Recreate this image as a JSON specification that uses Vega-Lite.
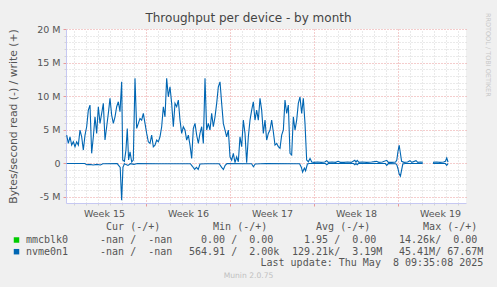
{
  "$schema": "https://vega.github.io/schema/vega-lite/v6.json",
  "width": 400,
  "height": 174,
  "autosize": {"type": "none"},
  "padding": {"left": 66, "top": 29, "right": 31, "bottom": 84},
  "background": "#f0f0f0",
  "config": {
    "font": "DejaVu Sans",
    "view": {"fill": "white", "stroke": null},
    "axis": {"labelColor": "#555555", "titleColor": "#555555", "labelFont": "DejaVu Sans", "labelFontSize": 9.5, "titleFont": "DejaVu Sans"}
  },
  "datasets": {
    "write": [
      {"day":0.389,"M":4.21,"s":"a"},{"day":0.528,"M":2.97,"s":"a"},{"day":0.667,"M":3.96,"s":"a"},{"day":0.806,"M":2.72,"s":"a"},
      {"day":0.944,"M":3.21,"s":"a"},{"day":1.083,"M":2.47,"s":"a"},{"day":1.222,"M":3.21,"s":"a"},{"day":1.361,"M":2.72,"s":"a"},
      {"day":1.5,"M":4.96,"s":"a"},{"day":1.639,"M":3.96,"s":"a"},{"day":1.778,"M":1.98,"s":"a"},{"day":1.917,"M":4.21,"s":"a"},
      {"day":2.056,"M":5.45,"s":"a"},{"day":2.194,"M":7.93,"s":"a"},{"day":2.333,"M":8.68,"s":"a"},{"day":2.472,"M":1.49,"s":"a"},
      {"day":2.611,"M":3.96,"s":"a"},{"day":2.75,"M":6.93,"s":"a"},{"day":2.889,"M":4.46,"s":"a"},{"day":3.028,"M":8.43,"s":"a"},
      {"day":3.167,"M":5.95,"s":"a"},{"day":3.306,"M":7.44,"s":"a"},{"day":3.444,"M":8.93,"s":"a"},{"day":3.583,"M":3.47,"s":"a"},
      {"day":3.722,"M":5.45,"s":"a"},{"day":3.861,"M":7.44,"s":"a"},{"day":4.0,"M":9.67,"s":"a"},{"day":4.139,"M":7.19,"s":"a"},
      {"day":4.278,"M":5.95,"s":"a"},{"day":4.417,"M":6.93,"s":"a"},{"day":4.556,"M":8.43,"s":"a"},{"day":4.694,"M":9.17,"s":"a"},
      {"day":4.833,"M":7.68,"s":"a"},{"day":4.972,"M":12.14,"s":"a"},{"day":5.06,"M":0.5,"s":"a"},{"day":5.2,"M":0.3,"s":"a"},
      {"day":5.33,"M":2.0,"s":"a"},{"day":5.44,"M":5.2,"s":"a"},{"day":5.55,"M":0.5,"s":"a"},{"day":5.67,"M":1.7,"s":"a"},
      {"day":5.81,"M":0.2,"s":"a"},{"day":5.94,"M":0.5,"s":"a"},{"day":6.083,"M":12.65,"s":"a"},{"day":6.222,"M":5.2,"s":"a"},
      {"day":6.361,"M":5.95,"s":"a"},{"day":6.5,"M":6.69,"s":"a"},{"day":6.639,"M":6.44,"s":"a"},{"day":6.778,"M":7.44,"s":"a"},
      {"day":6.917,"M":5.95,"s":"a"},{"day":7.056,"M":4.46,"s":"a"},{"day":7.194,"M":3.21,"s":"a"},{"day":7.333,"M":2.97,"s":"a"},
      {"day":7.472,"M":4.21,"s":"a"},{"day":7.611,"M":2.47,"s":"a"},{"day":7.75,"M":2.72,"s":"a"},{"day":7.889,"M":3.47,"s":"a"},
      {"day":8.028,"M":3.21,"s":"a"},{"day":8.167,"M":3.96,"s":"a"},{"day":8.306,"M":5.45,"s":"a"},{"day":8.444,"M":8.43,"s":"a"},
      {"day":8.583,"M":6.93,"s":"a"},{"day":8.722,"M":12.65,"s":"a"},{"day":8.861,"M":9.91,"s":"a"},{"day":9.0,"M":11.4,"s":"a"},
      {"day":9.139,"M":8.93,"s":"a"},{"day":9.278,"M":5.45,"s":"a"},{"day":9.417,"M":8.93,"s":"a"},{"day":9.556,"M":8.43,"s":"a"},
      {"day":9.694,"M":9.42,"s":"a"},{"day":9.833,"M":6.44,"s":"a"},{"day":9.972,"M":4.46,"s":"a"},{"day":10.111,"M":5.45,"s":"a"},
      {"day":10.25,"M":4.96,"s":"a"},{"day":10.389,"M":3.47,"s":"a"},{"day":10.528,"M":4.21,"s":"a"},{"day":10.667,"M":2.72,"s":"a"},
      {"day":10.806,"M":0.74,"s":"a"},{"day":10.944,"M":5.2,"s":"a"},{"day":11.083,"M":5.95,"s":"a"},{"day":11.222,"M":4.21,"s":"a"},
      {"day":11.361,"M":2.97,"s":"a"},{"day":11.5,"M":4.46,"s":"a"},{"day":11.639,"M":5.45,"s":"a"},{"day":11.778,"M":2.97,"s":"a"},
      {"day":11.917,"M":12.65,"s":"a"},{"day":12.056,"M":4.96,"s":"a"},{"day":12.194,"M":5.95,"s":"a"},{"day":12.333,"M":4.96,"s":"a"},
      {"day":12.472,"M":7.44,"s":"a"},{"day":12.611,"M":5.45,"s":"a"},{"day":12.75,"M":6.93,"s":"a"},{"day":12.889,"M":8.93,"s":"a"},
      {"day":13.028,"M":11.4,"s":"a"},{"day":13.167,"M":12.14,"s":"a"},{"day":13.306,"M":8.93,"s":"a"},{"day":13.444,"M":5.95,"s":"a"},
      {"day":13.583,"M":4.96,"s":"a"},{"day":13.722,"M":3.96,"s":"a"},{"day":13.861,"M":4.96,"s":"a"},{"day":14.0,"M":0.98,"s":"a"},
      {"day":14.139,"M":0.49,"s":"a"},{"day":14.278,"M":1.49,"s":"a"},{"day":14.417,"M":0.1,"s":"a"},{"day":14.556,"M":0.98,"s":"a"},
      {"day":14.694,"M":0.24,"s":"a"},{"day":14.833,"M":3.96,"s":"a"},{"day":14.972,"M":2.47,"s":"a"},{"day":15.111,"M":6.44,"s":"a"},
      {"day":15.25,"M":4.46,"s":"a"},{"day":15.389,"M":0.1,"s":"a"},{"day":15.528,"M":3.96,"s":"a"},{"day":15.667,"M":6.44,"s":"a"},
      {"day":15.806,"M":7.93,"s":"a"},{"day":15.944,"M":9.17,"s":"a"},{"day":16.083,"M":6.44,"s":"a"},{"day":16.222,"M":7.93,"s":"a"},
      {"day":16.361,"M":6.44,"s":"a"},{"day":16.5,"M":9.67,"s":"a"},{"day":16.639,"M":7.93,"s":"a"},{"day":16.778,"M":4.46,"s":"a"},
      {"day":16.917,"M":6.44,"s":"a"},{"day":17.056,"M":3.47,"s":"a"},{"day":17.194,"M":4.46,"s":"a"},{"day":17.333,"M":4.96,"s":"a"},
      {"day":17.472,"M":6.44,"s":"a"},{"day":17.611,"M":4.71,"s":"a"},{"day":17.75,"M":2.72,"s":"a"},{"day":17.889,"M":2.97,"s":"a"},
      {"day":18.028,"M":2.47,"s":"a"},{"day":18.167,"M":2.23,"s":"a"},{"day":18.306,"M":4.21,"s":"a"},{"day":18.444,"M":4.96,"s":"a"},
      {"day":18.583,"M":9.42,"s":"a"},{"day":18.722,"M":7.44,"s":"a"},{"day":18.861,"M":8.68,"s":"a"},{"day":19.0,"M":1.49,"s":"a"},
      {"day":19.139,"M":1.24,"s":"a"},{"day":19.278,"M":6.93,"s":"a"},{"day":19.417,"M":4.96,"s":"a"},{"day":19.556,"M":6.44,"s":"a"},
      {"day":19.694,"M":8.93,"s":"a"},{"day":19.833,"M":9.91,"s":"a"},{"day":19.972,"M":7.44,"s":"a"},{"day":20.111,"M":9.67,"s":"a"},
      {"day":20.25,"M":5.95,"s":"a"},{"day":20.389,"M":0.49,"s":"a"},{"day":20.528,"M":0.24,"s":"a"},{"day":20.67,"M":0.74,"s":"a"},
      {"day":20.81,"M":0.2,"s":"a"},{"day":21.0,"M":0.15,"s":"a"},{"day":21.3,"M":0.2,"s":"a"},{"day":21.6,"M":0.15,"s":"a"},
      {"day":21.9,"M":0.2,"s":"a"},{"day":22.06,"M":0.4,"s":"a"},{"day":22.2,"M":0.15,"s":"a"},{"day":22.5,"M":0.2,"s":"a"},
      {"day":22.8,"M":0.15,"s":"a"},{"day":23.0,"M":0.3,"s":"a"},{"day":23.2,"M":0.15,"s":"a"},{"day":23.5,"M":0.15,"s":"a"},
      {"day":23.8,"M":0.2,"s":"a"},{"day":24.1,"M":0.15,"s":"a"},{"day":24.4,"M":0.45,"s":"a"},{"day":24.5,"M":0.2,"s":"a"},
      {"day":24.6,"M":0.45,"s":"a"},{"day":24.75,"M":0.15,"s":"a"},{"day":25.0,"M":0.2,"s":"a"},{"day":25.4,"M":0.15,"s":"a"},
      {"day":25.8,"M":0.2,"s":"a"},{"day":26.2,"M":0.3,"s":"a"},{"day":26.4,"M":0.15,"s":"a"},{"day":26.7,"M":0.2,"s":"a"},
      {"day":27.06,"M":0.45,"s":"a"},{"day":27.2,"M":0.15,"s":"a"},{"day":27.5,"M":0.15,"s":"a"},{"day":27.8,"M":0.2,"s":"a"},
      {"day":27.9,"M":0.5,"s":"a"},{"day":28.0,"M":1.8,"s":"a"},{"day":28.1,"M":2.7,"s":"a"},{"day":28.2,"M":1.5,"s":"a"},
      {"day":28.3,"M":0.3,"s":"a"},{"day":28.5,"M":0.15,"s":"a"},{"day":28.8,"M":0.2,"s":"a"},{"day":29.0,"M":0.4,"s":"a"},
      {"day":29.15,"M":0.15,"s":"a"},{"day":29.5,"M":0.4,"s":"a"},{"day":29.65,"M":0.15,"s":"a"},{"day":29.9,"M":0.2,"s":"a"},
      {"day":30.06,"M":0.15,"s":"a"},
      {"day":30.92,"M":0.15,"s":"b"},{"day":31.2,"M":0.2,"s":"b"},{"day":31.5,"M":0.15,"s":"b"},{"day":31.8,"M":0.2,"s":"b"},
      {"day":31.95,"M":0.3,"s":"b"},{"day":32.06,"M":0.8,"s":"b"},{"day":32.17,"M":0.2,"s":"b"}
    ],
    "read": [
      {"day":0.389,"M":-0.02,"s":"a"},{"day":1.9,"M":-0.03,"s":"a"},{"day":2.05,"M":-0.2,"s":"a"},{"day":2.3,"M":-0.15,"s":"a"},
      {"day":2.6,"M":-0.25,"s":"a"},{"day":2.9,"M":-0.15,"s":"a"},{"day":3.2,"M":-0.25,"s":"a"},{"day":3.4,"M":-0.05,"s":"a"},
      {"day":4.6,"M":-0.03,"s":"a"},{"day":4.85,"M":-0.6,"s":"a"},{"day":4.97,"M":-5.5,"s":"a"},{"day":5.08,"M":-0.6,"s":"a"},
      {"day":5.2,"M":-0.05,"s":"a"},{"day":5.5,"M":-0.3,"s":"a"},{"day":5.7,"M":-0.05,"s":"a"},{"day":6.0,"M":-0.15,"s":"a"},
      {"day":6.3,"M":-0.03,"s":"a"},{"day":8.0,"M":-0.05,"s":"a"},{"day":10.7,"M":-0.05,"s":"a"},{"day":10.85,"M":-0.4,"s":"a"},
      {"day":11.05,"M":-0.9,"s":"a"},{"day":11.2,"M":-0.6,"s":"a"},{"day":11.35,"M":-0.9,"s":"a"},{"day":11.5,"M":-0.1,"s":"a"},
      {"day":12.0,"M":-0.05,"s":"a"},{"day":13.1,"M":-0.05,"s":"a"},{"day":13.3,"M":-0.6,"s":"a"},{"day":13.45,"M":-0.9,"s":"a"},
      {"day":13.6,"M":-0.3,"s":"a"},{"day":13.75,"M":-0.03,"s":"a"},{"day":15.8,"M":-0.05,"s":"a"},{"day":15.95,"M":-0.5,"s":"a"},
      {"day":16.1,"M":-0.1,"s":"a"},{"day":17.0,"M":-0.03,"s":"a"},{"day":19.8,"M":-0.05,"s":"a"},{"day":19.95,"M":-0.6,"s":"a"},
      {"day":20.05,"M":-1.3,"s":"a"},{"day":20.2,"M":-0.7,"s":"a"},{"day":20.3,"M":-1.1,"s":"a"},{"day":20.45,"M":-0.1,"s":"a"},
      {"day":20.6,"M":-0.03,"s":"a"},{"day":21.95,"M":-0.03,"s":"a"},{"day":22.06,"M":-0.2,"s":"a"},{"day":22.2,"M":-0.03,"s":"a"},
      {"day":24.3,"M":-0.03,"s":"a"},{"day":24.4,"M":-0.2,"s":"a"},{"day":24.5,"M":-0.03,"s":"a"},{"day":24.6,"M":-0.2,"s":"a"},
      {"day":24.7,"M":-0.03,"s":"a"},{"day":26.95,"M":-0.03,"s":"a"},{"day":27.06,"M":-0.3,"s":"a"},{"day":27.2,"M":-0.03,"s":"a"},
      {"day":27.8,"M":-0.05,"s":"a"},{"day":27.9,"M":-0.2,"s":"a"},{"day":28.0,"M":-0.8,"s":"a"},{"day":28.1,"M":-1.6,"s":"a"},
      {"day":28.2,"M":-1.9,"s":"a"},{"day":28.3,"M":-1.0,"s":"a"},{"day":28.4,"M":-0.1,"s":"a"},{"day":28.6,"M":-0.03,"s":"a"},
      {"day":30.06,"M":-0.03,"s":"a"},
      {"day":30.92,"M":-0.03,"s":"b"},{"day":31.95,"M":-0.03,"s":"b"},{"day":32.06,"M":-0.3,"s":"b"},{"day":32.17,"M":-0.05,"s":"b"}
    ],
    "legendText": [
      {"row":0,"col":2,"text":"\u200b\u00a0\u00a0\u00a0Cur (-/+)"},
      {"row":0,"col":3,"text":"\u200b\u00a0\u00a0\u00a0\u00a0Min (-/+)"},
      {"row":0,"col":4,"text":"\u200b\u00a0\u00a0\u00a0\u00a0Avg (-/+)"},
      {"row":0,"col":5,"text":"\u200b\u00a0\u00a0\u00a0\u00a0\u00a0Max (-/+)"},
      {"row":1,"col":1,"text":"mmcblk0"},
      {"row":1,"col":2,"text":"\u200b\u00a0\u00a0-nan /\u00a0\u00a0-nan"},
      {"row":1,"col":3,"text":"\u200b\u00a0\u00a00.00 /\u00a0\u00a00.00"},
      {"row":1,"col":4,"text":"\u200b\u00a0\u00a01.95 /\u00a0\u00a00.00"},
      {"row":1,"col":5,"text":"\u200b\u00a014.26k/\u00a0\u00a00.00"},
      {"row":2,"col":1,"text":"nvme0n1"},
      {"row":2,"col":2,"text":"\u200b\u00a0\u00a0-nan /\u00a0\u00a0-nan"},
      {"row":2,"col":3,"text":"564.91 /\u00a0\u00a02.00k"},
      {"row":2,"col":4,"text":"129.21k/\u00a0\u00a03.19M"},
      {"row":2,"col":5,"text":"\u200b\u00a045.41M/\u00a067.67M"},
      {"row":3,"col":6,"text":"Last update: Thu May\u00a0\u00a08 09:35:08 2025"}
    ],
    "legendSwatch": [
      {"row":1,"col":0,"device":"mmcblk0"},
      {"row":2,"col":0,"device":"nvme0n1"}
    ],
    "titleText": [{"row":6,"col":7,"text":"Throughput per device - by month"}],
    "creditText": [{"row":4,"col":7,"text":"Munin 2.0.75"}],
    "sideText": [{"row":5,"col":8,"text":"RRDTOOL / TOBI OETIKER"}]
  },
  "layer": [
    {
      "mark": {"type": "rule", "color": "#000000", "strokeWidth": 1},
      "encoding": {
        "y": {"datum": 0, "type": "quantitative",
          "scale": {"domain": [-5.9, 20], "nice": false, "zero": false},
          "axis": {"orient": "left", "grid": true, "gridColor": "#d4d4d4", "gridDash": [1, 2],
            "values": [-4,-3,-2,-1,1,2,3,4,6,7,8,9,11,12,13,14,16,17,18,19],
            "labels": false, "ticks": true, "tickSize": 2, "tickColor": "#d4d4d4", "domain": false, "title": null}}
      }
    },
    {
      "mark": {"type": "rule", "color": "#999999", "strokeWidth": 1},
      "encoding": {
        "x": {"datum": 32.33, "type": "quantitative",
          "scale": {"domain": [0.333, 33.667], "nice": false, "zero": false},
          "axis": {"orient": "bottom", "grid": true, "gridColor": "#d4d4d4", "gridDash": [1, 2],
            "values": [1,2,3,4,5,6,8,9,10,11,12,13,15,16,17,18,19,20,22,23,24,25,26,27,29,30,31,32,33],
            "labels": false, "ticks": true, "tickSize": 2, "tickColor": "#d4d4d4", "domain": false, "title": null}}
      }
    },
    {
      "data": {"name": "read"},
      "mark": {"type": "line", "color": "#0066b3", "strokeWidth": 1.1},
      "encoding": {
        "x": {"field": "day", "type": "quantitative",
          "scale": {"domain": [0.333, 33.667], "nice": false, "zero": false},
          "axis": {"orient": "bottom", "values": [3.5, 10.5, 17.5, 24.5, 31.5],
            "labelExpr": "'Week ' + (15 + floor(datum.value / 7))",
            "grid": false, "ticks": false, "tickSize": 0, "domain": false, "labelPadding": 5, "title": null}},
        "y": {"field": "M", "type": "quantitative",
          "scale": {"domain": [-5.9, 20], "nice": false, "zero": false}, "axis": null},
        "detail": {"field": "s"}
      }
    },
    {
      "data": {"name": "write"},
      "mark": {"type": "line", "color": "#0066b3", "strokeWidth": 1.1},
      "encoding": {
        "x": {"field": "day", "type": "quantitative",
          "scale": {"domain": [0.333, 33.667], "nice": false, "zero": false},
          "axis": {"orient": "bottom", "values": [7, 14, 21, 28], "grid": true, "gridColor": "#e89a9a", "gridDash": [1, 2],
            "labels": false, "ticks": true, "tickSize": 3, "tickColor": "#e89a9a",
            "domain": true, "domainColor": "#c6c8f2", "title": null}},
        "y": {"field": "M", "type": "quantitative",
          "scale": {"domain": [-5.9, 20], "nice": false, "zero": false},
          "axis": {"orient": "left", "values": [-5, 0, 5, 10, 15, 20], "grid": true, "gridColor": "#e89a9a", "gridDash": [1, 2],
            "labelExpr": "datum.value == 0 ? '0' : datum.value + ' M'",
            "ticks": true, "tickSize": 3, "tickColor": "#e89a9a", "labelPadding": 3,
            "domain": true, "domainColor": "#c6c8f2",
            "title": "Bytes/second read (-) / write (+)", "titleFontSize": 10.8, "titleFontWeight": "normal", "titlePadding": 18}},
        "detail": {"field": "s"}
      }
    },
    {
      "data": {"name": "legendText"},
      "mark": {"type": "text", "font": "DejaVu Sans Mono", "fontSize": 10, "align": "left", "baseline": "middle", "color": "#555555"},
      "encoding": {
        "x": {"field": "col", "type": "quantitative", "axis": null,
          "scale": {"domain": [0,1,2,3,4,5,6,7,8], "range": [-49.5,-40,22,123,226,327,194.5,182.5,422], "nice": false, "zero": false}},
        "y": {"field": "row", "type": "quantitative", "axis": null,
          "scale": {"domain": [0,1,2,3,4,5,6], "range": [198.3,211,222.7,234,247,-16,-11], "nice": false, "zero": false}},
        "text": {"field": "text"}
      }
    },
    {
      "data": {"name": "legendSwatch"},
      "mark": {"type": "square", "size": 30, "filled": true, "opacity": 1},
      "encoding": {
        "x": {"field": "col", "type": "quantitative", "axis": null,
          "scale": {"domain": [0,1,2,3,4,5,6,7,8], "range": [-49.5,-40,22,123,226,327,194.5,182.5,422], "nice": false, "zero": false}},
        "y": {"field": "row", "type": "quantitative", "axis": null,
          "scale": {"domain": [0,1,2,3,4,5,6], "range": [198.3,211,222.7,234,247,-16,-11], "nice": false, "zero": false}},
        "color": {"field": "device", "type": "nominal", "legend": null,
          "scale": {"domain": ["mmcblk0", "nvme0n1"], "range": ["#00cc00", "#0066b3"]}}
      }
    },
    {
      "data": {"name": "titleText"},
      "mark": {"type": "text", "font": "DejaVu Sans", "fontSize": 12, "align": "center", "baseline": "middle", "color": "#444444"},
      "encoding": {
        "x": {"field": "col", "type": "quantitative", "axis": null,
          "scale": {"domain": [0,1,2,3,4,5,6,7,8], "range": [-49.5,-40,22,123,226,327,194.5,182.5,422], "nice": false, "zero": false}},
        "y": {"field": "row", "type": "quantitative", "axis": null,
          "scale": {"domain": [0,1,2,3,4,5,6], "range": [198.3,211,222.7,234,247,-16,-11], "nice": false, "zero": false}},
        "text": {"field": "text"}
      }
    },
    {
      "data": {"name": "creditText"},
      "mark": {"type": "text", "font": "DejaVu Sans", "fontSize": 7.6, "align": "center", "baseline": "middle", "color": "#c0c0c0"},
      "encoding": {
        "x": {"field": "col", "type": "quantitative", "axis": null,
          "scale": {"domain": [0,1,2,3,4,5,6,7,8], "range": [-49.5,-40,22,123,226,327,194.5,182.5,422], "nice": false, "zero": false}},
        "y": {"field": "row", "type": "quantitative", "axis": null,
          "scale": {"domain": [0,1,2,3,4,5,6], "range": [198.3,211,222.7,234,247,-16,-11], "nice": false, "zero": false}},
        "text": {"field": "text"}
      }
    },
    {
      "data": {"name": "sideText"},
      "mark": {"type": "text", "font": "DejaVu Sans", "fontSize": 6.5, "align": "left", "baseline": "middle", "angle": 90, "color": "#c8c8c8"},
      "encoding": {
        "x": {"field": "col", "type": "quantitative", "axis": null,
          "scale": {"domain": [0,1,2,3,4,5,6,7,8], "range": [-49.5,-40,22,123,226,327,194.5,182.5,422], "nice": false, "zero": false}},
        "y": {"field": "row", "type": "quantitative", "axis": null,
          "scale": {"domain": [0,1,2,3,4,5,6], "range": [198.3,211,222.7,234,247,-16,-11], "nice": false, "zero": false}},
        "text": {"field": "text"}
      }
    }
  ],
  "resolve": {
    "scale": {"x": "independent", "y": "independent", "color": "independent"},
    "axis": {"x": "independent", "y": "independent"}
  }
}
